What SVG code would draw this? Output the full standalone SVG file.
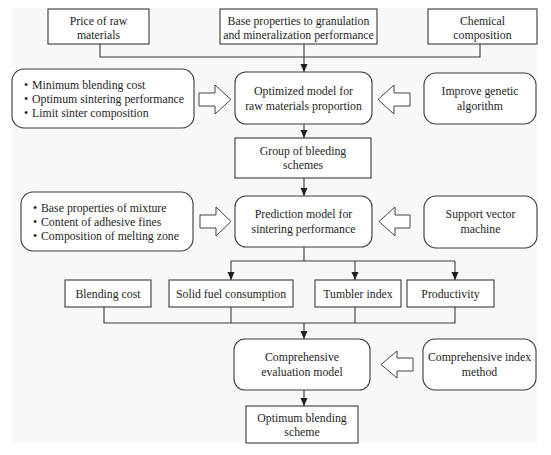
<svg xmlns="http://www.w3.org/2000/svg" width="551" height="455" viewBox="0 0 551 455" font-family="'Liberation Serif', 'Times New Roman', 'DejaVu Serif', serif">
<defs>
<style>
.box{fill:#ffffff;stroke:#3a3a3a;stroke-width:1.1}
.ln{fill:none;stroke:#3a3a3a;stroke-width:1.1}
.blk{fill:#ffffff;stroke:#444444;stroke-width:1}
text{font-family:'Liberation Serif','Times New Roman','DejaVu Serif',serif;font-size:11.8px;fill:#1e1e1e}
.c{text-anchor:middle}
</style>
<marker id="ah" viewBox="0 0 8 8" refX="8" refY="4" markerWidth="8" markerHeight="8" markerUnits="userSpaceOnUse" orient="auto">
<path d="M0,0.5 L8,4 L0,7.5 z" fill="#1e1e1e"/>
</marker>
</defs>
<rect x="0" y="0" width="551" height="455" fill="#ffffff"/>
<rect x="12" y="8" width="525" height="435" fill="#f8f8f8"/>

<g id="connectors">
<polyline class="ln" points="100,44 100,57 480,57 480,44"/>
<line class="ln" x1="304" y1="44" x2="304" y2="72" marker-end="url(#ah)"/>
<line class="ln" x1="304" y1="124" x2="304" y2="138" marker-end="url(#ah)"/>
<line class="ln" x1="304" y1="178" x2="304" y2="196" marker-end="url(#ah)"/>
<line class="ln" x1="304" y1="247" x2="304" y2="261"/>
<line class="ln" x1="231" y1="261" x2="455" y2="261"/>
<line class="ln" x1="231" y1="261" x2="231" y2="280" marker-end="url(#ah)"/>
<line class="ln" x1="355" y1="261" x2="355" y2="280" marker-end="url(#ah)"/>
<line class="ln" x1="455" y1="261" x2="455" y2="280" marker-end="url(#ah)"/>
<polyline class="ln" points="104,307 104,323 455,323 455,307"/>
<line class="ln" x1="231" y1="307" x2="231" y2="323"/>
<line class="ln" x1="355" y1="307" x2="355" y2="323"/>
<line class="ln" x1="304" y1="323" x2="304" y2="339" marker-end="url(#ah)"/>
<line class="ln" x1="304" y1="390" x2="304" y2="406" marker-end="url(#ah)"/>
<polygon class="blk" points="199,93 215,93 215,85 231,99.5 215,114 215,106 199,106"/>
<polygon class="blk" points="410,93 394,93 394,85 378,99.5 394,114 394,106 410,106"/>
<polygon class="blk" points="200,215 216,215 216,207 231,221.5 216,236 216,228 200,228"/>
<polygon class="blk" points="410,215 395,215 395,207 379,221.5 395,236 395,228 410,228"/>
<polygon class="blk" points="413,358 397,358 397,351 381,364.5 397,378 397,371 413,371"/>
</g>

<g id="price">
<rect class="box" x="48" y="9" width="101" height="35"/>
<text class="c" x="98.5" y="24.5">Price of raw</text>
<text class="c" x="98.5" y="38.5">materials</text>
</g>
<g id="base">
<rect class="box" x="220" y="9" width="157" height="35"/>
<text class="c" x="298.5" y="24.5">Base properties to granulation</text>
<text class="c" x="298.5" y="38.5">and mineralization performance</text>
</g>
<g id="chemical">
<rect class="box" x="428" y="9" width="109" height="35"/>
<text class="c" x="482.5" y="24.5">Chemical</text>
<text class="c" x="482.5" y="38.5">composition</text>
</g>

<g id="objectives">
<rect class="box" x="12" y="69" width="182" height="59" rx="12"/>
<text x="24" y="89">•</text><text x="32" y="89">Minimum blending cost</text>
<text x="24" y="103">•</text><text x="32" y="103">Optimum sintering performance</text>
<text x="24" y="117">•</text><text x="32" y="117">Limit sinter composition</text>
</g>
<g id="optimized">
<rect class="box" x="235" y="72" width="137" height="52" rx="11"/>
<text class="c" x="303.5" y="95">Optimized model for</text>
<text class="c" x="303.5" y="110">raw materials proportion</text>
</g>
<g id="genetic">
<rect class="box" x="424" y="73" width="112" height="51" rx="12"/>
<text class="c" x="480" y="95">Improve genetic</text>
<text class="c" x="480" y="110">algorithm</text>
</g>

<g id="group">
<rect class="box" x="235" y="138" width="136" height="40"/>
<text class="c" x="303" y="155">Group of bleeding</text>
<text class="c" x="303" y="169">schemes</text>
</g>

<g id="factors">
<rect class="box" x="21" y="192" width="172" height="59" rx="12"/>
<text x="33" y="212">•</text><text x="41" y="212">Base properties of mixture</text>
<text x="33" y="226">•</text><text x="41" y="226">Content of adhesive fines</text>
<text x="33" y="240">•</text><text x="41" y="240">Composition of melting zone</text>
</g>
<g id="prediction">
<rect class="box" x="235" y="196" width="137" height="51" rx="11"/>
<text class="c" x="303.5" y="218">Prediction model for</text>
<text class="c" x="303.5" y="233">sintering performance</text>
</g>
<g id="svm">
<rect class="box" x="424" y="196" width="113" height="52" rx="12"/>
<text class="c" x="480.5" y="218">Support vector</text>
<text class="c" x="480.5" y="233">machine</text>
</g>

<g id="blending-cost">
<rect class="box" x="65" y="280" width="86" height="27"/>
<text class="c" x="108" y="297.5">Blending cost</text>
</g>
<g id="solid-fuel">
<rect class="box" x="169" y="280" width="124" height="27"/>
<text class="c" x="231" y="297.5">Solid fuel consumption</text>
</g>
<g id="tumbler">
<rect class="box" x="315" y="280" width="86" height="27"/>
<text class="c" x="358" y="297.5">Tumbler index</text>
</g>
<g id="productivity">
<rect class="box" x="407" y="280" width="87" height="27"/>
<text class="c" x="450.5" y="297.5">Productivity</text>
</g>

<g id="evaluation">
<rect class="box" x="234" y="339" width="136" height="51" rx="11"/>
<text class="c" x="302" y="361">Comprehensive</text>
<text class="c" x="302" y="376">evaluation model</text>
</g>
<g id="index-method">
<rect class="box" x="423" y="339" width="113" height="51" rx="12"/>
<text class="c" x="479.5" y="361">Comprehensive index</text>
<text class="c" x="479.5" y="376">method</text>
</g>

<g id="optimum">
<rect class="box" x="246" y="406" width="112" height="37"/>
<text class="c" x="302" y="422">Optimum blending</text>
<text class="c" x="302" y="436">scheme</text>
</g>
</svg>
